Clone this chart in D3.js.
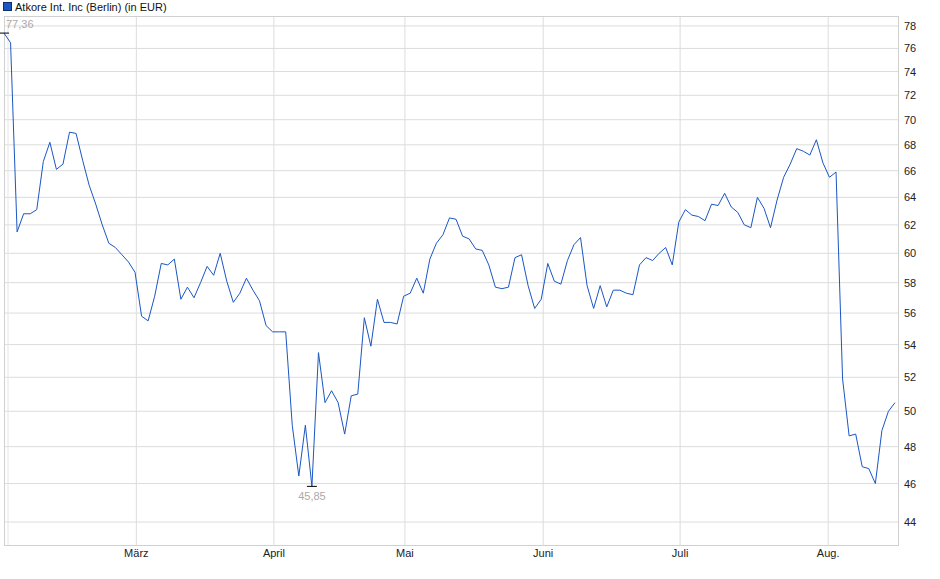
<!DOCTYPE html>
<html>
<head>
<style>
body { margin: 0; background: #fff; }
text { font-family: "Liberation Sans", Arial, sans-serif; font-size: 11px; }
</style>
<script src="https://d3js.org/d3.v7.min.js"></script>
</head>
<body>
<svg id="chart" width="940" height="579"></svg>
<script>
var title = 'Atkore Int. Inc (Berlin) (in EUR)';
var prices = [
  77.36,76.5,61.5,62.8,62.8,63.1,66.7,68.2,66.1,66.5,
  69.0,68.9,66.8,64.9,63.5,62.0,60.7,60.4,59.9,59.4,
  58.7,55.8,55.5,57.1,59.3,59.2,59.6,56.9,57.7,57.0,
  58.0,59.1,58.5,60.0,58.1,56.7,57.3,58.3,57.5,56.8,
  55.2,54.8,54.8,54.8,49.2,46.4,49.2,45.85,53.5,50.5,
  51.2,50.5,48.7,50.9,51.0,55.7,53.9,56.9,55.4,55.4,
  55.3,57.1,57.3,58.3,57.3,59.6,60.7,61.3,62.5,62.4,
  61.2,61.0,60.3,60.2,59.2,57.7,57.6,57.7,59.7,59.9,
  57.8,56.3,56.9,59.3,58.1,57.9,59.5,60.6,61.1,57.8,
  56.3,57.8,56.4,57.5,57.5,57.3,57.2,59.2,59.7,59.5,
  60.0,60.4,59.2,62.2,63.1,62.7,62.6,62.3,63.5,63.4,
  64.3,63.3,62.9,62.0,61.8,64.0,63.2,61.8,63.8,65.5,
  66.5,67.7,67.5,67.2,68.4,66.6,65.5,65.9,51.9,48.6,
  48.7,46.9,46.8,46.0,48.9,50.0,50.5
];
var monthLabels = ['März','April','Mai','Juni','Juli','Aug.'];
var monthIdx = [20.2,41.2,61.2,82.3,103.2,125.8];
var yTicks = [44,46,48,50,52,54,56,58,60,62,64,66,68,70,72,74,76,78];

var L = 4, R = 898, T = 16, B = 545;
var svg = d3.select('#chart');
var x = d3.scaleLinear().domain([0, prices.length - 1]).range([L, 895]);
var y = d3.scaleLog().domain([42.85, 78.9]).range([B, T]);

// grid
svg.append('g').selectAll('line').data(yTicks).enter().append('line')
  .attr('x1', L).attr('x2', R).attr('y1', d => y(d)).attr('y2', d => y(d))
  .attr('stroke', '#dcdcdc');
svg.append('g').selectAll('line').data(monthIdx).enter().append('line')
  .attr('x1', d => x(d)).attr('x2', d => x(d)).attr('y1', T).attr('y2', B)
  .attr('stroke', '#dcdcdc');
svg.append('line').attr('x1', 8).attr('x2', 8).attr('y1', T).attr('y2', B).attr('stroke', '#e6e6e6');
svg.append('rect').attr('x', L + 0.5).attr('y', T + 0.5).attr('width', R - L).attr('height', B - T)
  .attr('fill', 'none').attr('stroke', '#d0d0d0');

// axes labels
svg.append('g').selectAll('text').data(yTicks).enter().append('text')
  .attr('x', 904).attr('y', d => y(d) + 4).attr('fill', '#222').text(d => d);
svg.append('g').selectAll('text').data(monthIdx).enter().append('text')
  .attr('x', d => x(d)).attr('y', 557).attr('text-anchor', 'middle').attr('fill', '#222')
  .text((d, i) => monthLabels[i]);

// line
svg.append('path').datum(prices)
  .attr('d', d3.line().x((d, i) => x(i)).y(d => y(d)))
  .attr('fill', 'none').attr('stroke', '#1a56c4').attr('stroke-width', 1);

// extremes
var iMax = d3.maxIndex(prices), iMin = d3.minIndex(prices);
[iMax, iMin].forEach(function(i) {
  svg.append('line').attr('x1', x(i) - 5).attr('x2', x(i) + 5)
    .attr('y1', y(prices[i])).attr('y2', y(prices[i])).attr('stroke', '#000');
});
svg.append('text').attr('x', x(iMax) + 2).attr('y', y(prices[iMax]) - 5).attr('fill', '#aaa')
  .text(d3.format('.2f')(prices[iMax]).replace('.', ','));
svg.append('text').attr('x', x(iMin)).attr('y', y(prices[iMin]) + 14).attr('text-anchor', 'middle')
  .attr('fill', '#aaa').text(d3.format('.2f')(prices[iMin]).replace('.', ','));

// legend
svg.append('rect').attr('x', 3.5).attr('y', 2.5).attr('width', 8).attr('height', 8)
  .attr('fill', '#1a56c4').attr('stroke', '#0c2f6e');
svg.append('text').attr('x', 15).attr('y', 11).attr('fill', '#111').text(title);
</script>
</body>
</html>
